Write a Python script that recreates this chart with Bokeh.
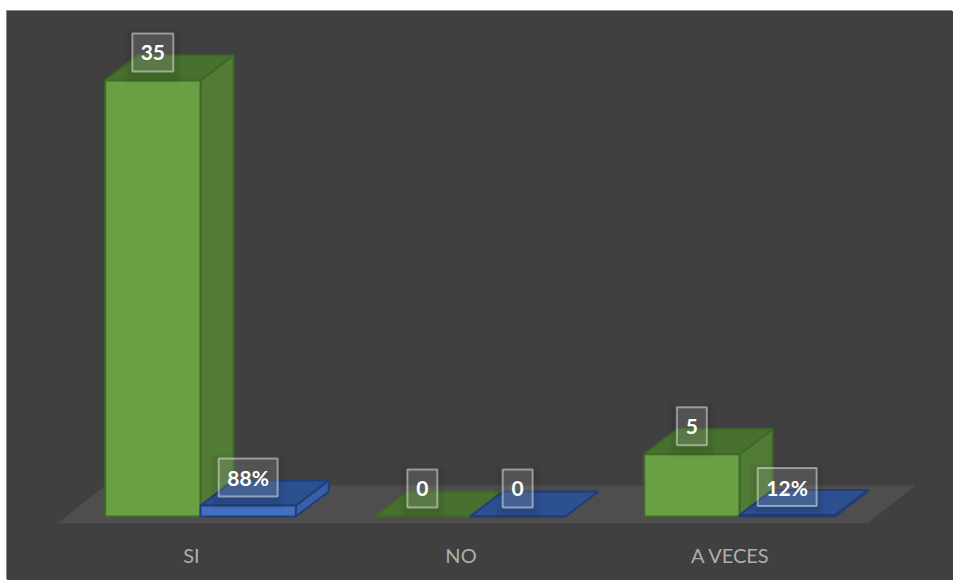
from bokeh.embed import file_html
from bokeh.resources import INLINE
from bokeh.plotting import figure
from bokeh.models import FixedTicker, Range1d
from bokeh.core.properties import value

categories = ["SI", "NO", "A VECES"]
counts = [35, 0, 5]
shares = [0.88, 0, 0.12]
count_labels = ["35", "0", "5"]
share_labels = ["88%", "0", "12%"]

OX, OY = 7, 11        # where the dark panel starts on the page
W, H = 953 - OX, 580 - OY
PX_X = 269.5          # pixels per category
PX_Y = 12.46          # pixels per unit of value
BOTTOM = 516 - OY     # row of value 0 in the figure
FRAME_BOTTOM = 530 - OY
LABEL_X0 = 191 - OX   # column of the first category label

bw = 95.3 / PX_X
shift = 9 / PX_X
dx = 33 / PX_X
dy = 25 / PX_Y
floor_left, floor_right = -134 / PX_X, 676 / PX_X
floor_drop = 6.7 / PX_Y
floor_rise = 31 / PX_Y

x_start = -LABEL_X0 / PX_X
y_end = BOTTOM / PX_Y
y_start = -(FRAME_BOTTOM - BOTTOM) / PX_Y

p = figure(width=W, height=H, output_backend="svg", toolbar_location=None,
           margin=(OY, 0, 0, OX),
           styles={"box-shadow": "-1px -1px 0 #8a8a8a", "background-color": "#404040", "border-radius": "0"},
           x_range=Range1d(x_start, x_start + W / PX_X),
           y_range=Range1d(y_start, y_end),
           min_border=0, min_border_bottom=H - FRAME_BOTTOM, min_border_top=0,
           min_border_left=0, min_border_right=0,
           background_fill_color=None, border_fill_color=None)
p.outline_line_color = None
p.grid.visible = False
p.yaxis.visible = False
p.xaxis.ticker = FixedTicker(ticks=[0, 1, 2])
p.xaxis.major_label_overrides = {i: c for i, c in enumerate(categories)}
p.xaxis.axis_line_color = None
p.xaxis.major_tick_line_color = None
p.xaxis.minor_tick_line_color = None
p.xaxis.major_label_standoff = 6
p.xaxis.major_label_text_font = "Lato"
p.xaxis.major_label_text_font_size = "20px"
p.xaxis.major_label_text_color = "#aeaeae"

# floor
p.patch([floor_left, floor_right, floor_right + 48 / PX_X, floor_left + 48 / PX_X],
        [-floor_drop, -floor_drop, floor_rise, floor_rise], fill_color="#4f4d4d", line_color=None)


def box(x0, v, front, top, side, edge):
    x1 = x0 + bw
    p.patch([x1, x1 + dx, x1 + dx, x1], [0, dy, v + dy, v], fill_color=side, line_color=edge, line_width=2)
    p.patch([x0, x1, x1 + dx, x0 + dx], [v, v, v + dy, v + dy], fill_color=top, line_color=edge, line_width=2)
    p.patch([x0, x1, x1, x0], [0, 0, v, v], fill_color=front, line_color=edge, line_width=2)


GREEN = ("#69a044", "#48702e", "#527b36", "#3f6a26")
BLUE = ("#4270bf", "#2d5090", "#3760a8", "#203f76")

for i in range(3):
    c = i + shift
    box(c - bw, counts[i], *GREEN)
    box(c, shares[i], *BLUE)

box_w = {1: 30, 2: 41, 3: 59}
cx, cy, cw, ct = [], [], [], []
for i in range(3):
    c = i + shift
    for xc, v, t in ((c - bw / 2, counts[i], count_labels[i]), (c + bw / 2, shares[i], share_labels[i])):
        cx.append(xc)
        cy.append(v + 28 / PX_Y)
        cw.append(box_w[len(t)])
        ct.append(t)

# soft shadow under each label box
for grow in (16, 10, 4):
    p.rect(cx, [v - 4 / PX_Y for v in cy], width=[w + grow for w in cw], height=38 + grow,
           width_units="screen", height_units="screen",
           fill_color="#000000", fill_alpha=0.035, line_color=None)

p.rect(cx, cy, width=cw, height=38, width_units="screen", height_units="screen",
       fill_color="#ffffff", fill_alpha=0.14, line_color="#ffffff", line_alpha=0.45, line_width=2)
p.text(cx, cy, text=ct, text_align="center", text_baseline="middle",
       text_color="#ffffff", text_font=value("Lato"), text_font_style="bold", text_font_size="21px")

open("out.html", "w").write(file_html(p, INLINE))
